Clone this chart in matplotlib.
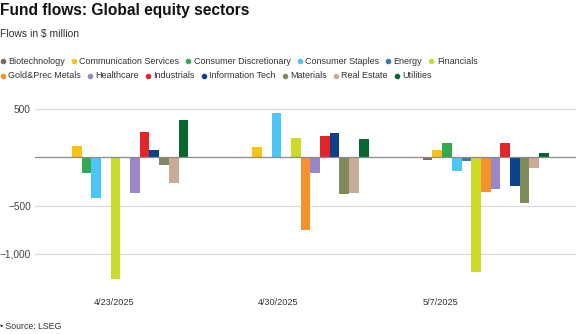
import numpy as np
import matplotlib
matplotlib.use("Agg")
import matplotlib.pyplot as plt
from matplotlib.lines import Line2D

# weekly flows, $ million
dates = ["4/23/2025", "4/30/2025", "5/7/2025"]
sectors = ["Biotechnology", "Communication Services", "Consumer Discretionary",
           "Consumer Staples", "Energy", "Financials", "Gold&Prec Metals",
           "Healthcare", "Industrials", "Information Tech", "Materials",
           "Real Estate", "Utilities"]
biotechnology = [-5, 0, -28]
communication_services = [120, 108, 77]
consumer_discretionary = [-165, 0, 149]
consumer_staples = [-420, 460, -138]
energy = [0, 8, -41]
financials = [-1258, 197, -1186]
gold_prec_metals = [-4, -756, -358]
healthcare = [-368, -162, -331]
industrials = [263, 225, 149]
information_tech = [77, 256, -300]
materials = [-79, -379, -476]
real_estate = [-269, -369, -110]
utilities = [390, 191, 45]

series = [biotechnology, communication_services, consumer_discretionary,
          consumer_staples, energy, financials, gold_prec_metals, healthcare,
          industrials, information_tech, materials, real_estate, utilities]
colors = ["#7d6b5f", "#f7c414", "#34a853", "#4cc6f5", "#3b78b8", "#cbdb2a",
          "#f7922a", "#9a87c8", "#e1262b", "#0d4189", "#7e8b5c", "#c9ab96",
          "#0a6630"]

W, H = 576, 334
plt.rcParams['font.family'] = ['Liberation Sans', 'DejaVu Sans']
fig = plt.figure(figsize=(W / 100, H / 100), dpi=100)


def fx(px):
    return px / W


def fy(py):
    return 1 - py / H


ax = fig.add_axes([fx(35), fy(285), fx(541), 185 / H])

n = len(series)
bar_w = 0.0538
x = np.arange(len(dates))
for i, (vals, col) in enumerate(zip(series, colors)):
    ax.bar(x + (i - (n - 1) / 2) * bar_w, vals, bar_w, color=col,
           linewidth=0, zorder=3)

ax.set_xlim(-0.5, 2.5)
ax.set_ylim(-1322, 593)
ax.set_yticks([500, -500, -1000])
ax.set_yticklabels(["500", "\u2212500", "\u22121,000"])
ax.yaxis.grid(True, color="#dcdcdc", linewidth=0.9, zorder=0)
ax.axhline(0, color="#8a8a8a", linewidth=0.9, zorder=4)

# date labels sit a little left of the bar groups
label_x = [-0.06, 0.85, 1.75]
ax.set_xticks(label_x)
ax.set_xticklabels(dates)
ax.tick_params(axis='x', length=0, pad=9.5, labelsize=6.6, labelcolor="#333333")
ax.tick_params(axis='y', length=0, pad=3, labelsize=7.3, labelcolor="#444444")
for s in ax.spines.values():
    s.set_visible(False)

fig.text(fx(0), fy(15.5), "Fund flows: Global equity sectors",
         fontsize=11.2, fontweight='bold', color="#111111", va='baseline')
fig.text(fx(0), fy(36.5), "Flows in $ million", fontsize=7.5,
         color="#333333", va='baseline')
fig.text(fx(0), fy(329), "\u2022 Source: LSEG", fontsize=6.3,
         color="#333333", va='baseline')

# hand-laid legend, two rows
rows = [sectors[:6], sectors[6:]]
renderer = fig.canvas.get_renderer()
idx = 0
for r, row in enumerate(rows):
    base = 63.5 + r * 15
    mx = 2.5
    for name in row:
        col = colors[idx]
        idx += 1
        fig.add_artist(Line2D([fx(mx)], [fy(base - 2.5)], marker='o',
                              markersize=3.0, color=col, linewidth=0,
                              transform=fig.transFigure))
        t = fig.text(fx(mx + 5.5), fy(base), name, fontsize=6.5,
                     color="#333333", va='baseline')
        bb = t.get_window_extent(renderer)
        mx = mx + 5.5 + bb.width + 9

fig.savefig("out.png", dpi=100)
